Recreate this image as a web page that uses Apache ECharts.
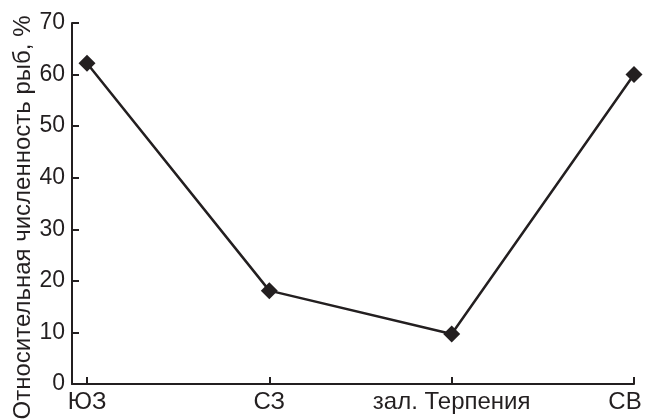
<!DOCTYPE html>
<html>
<head>
<meta charset="utf-8">
<script src="https://cdn.jsdelivr.net/npm/echarts@6/dist/echarts.min.js"></script>
<style>
html,body{margin:0;padding:0;background:#fff;}
#chart{width:645px;height:419px;}
</style>
</head>
<body>
<div id="chart"></div>
<script>
const categories = ["ЮЗ", "СЗ", "зал. Терпения", "СВ"];
const values = [62.2, 18.1, 9.7, 60.0];
const yTicks = [0, 10, 20, 30, 40, 50, 60, 70];
const yTitle = "Относительная численность рыб, %";

const ink = "#231f20";
const chart = echarts.init(document.getElementById("chart"), null, {renderer: "canvas"});
const catIdx = categories.map((c, i) => i);
chart.setOption({
  animation: false,
  backgroundColor: "#ffffff",
  grid: {left: 72, right: 11, top: 23, bottom: 35, containLabel: false, outerBoundsMode: "none"},
  xAxis: {
    type: "value",
    min: -0.0823,
    max: categories.length - 1,
    splitLine: {show: false},
    axisLine: {show: true, onZero: false, lineStyle: {color: ink, width: 2}},
    axisTick: {show: true, inside: true, length: 7, customValues: catIdx, lineStyle: {color: ink, width: 2}},
    axisLabel: {
      customValues: catIdx,
      color: ink,
      fontFamily: "Liberation Sans, Arial, sans-serif",
      fontSize: 24,
      margin: 6,
      hideOverlap: false,
      formatter: function (v) {
        const i = Math.round(v);
        if (i === categories.length - 1) return "{last|" + categories[i] + "}";
        return categories[i];
      },
      rich: {last: {fontFamily: "Liberation Sans, Arial, sans-serif", fontSize: 24, color: ink, padding: [0, 18, 0, 0]}}
    }
  },
  yAxis: {
    type: "value",
    min: yTicks[0],
    max: yTicks[yTicks.length - 1],
    interval: yTicks[1] - yTicks[0],
    splitLine: {show: false},
    axisLine: {show: true, onZero: false, lineStyle: {color: ink, width: 2}},
    axisTick: {show: true, inside: true, length: 7, lineStyle: {color: ink, width: 2}},
    axisLabel: {color: ink, fontFamily: "Liberation Sans, Arial, sans-serif", fontSize: 23, margin: 7},
    name: yTitle,
    nameLocation: "middle",
    nameGap: 37,
    nameRotate: 90,
    nameMoveOverlap: false,
    nameTextStyle: {color: ink, fontFamily: "Liberation Sans, Arial, sans-serif", fontSize: 24, padding: [0, 28, 0, 0]}
  },
  series: [{
    type: "line",
    data: values.map((v, i) => [catIdx[i], v]),
    symbol: "diamond",
    symbolSize: 17,
    showSymbol: true,
    itemStyle: {color: ink},
    lineStyle: {color: ink, width: 2.5}
  }]
});
</script>
</body>
</html>
